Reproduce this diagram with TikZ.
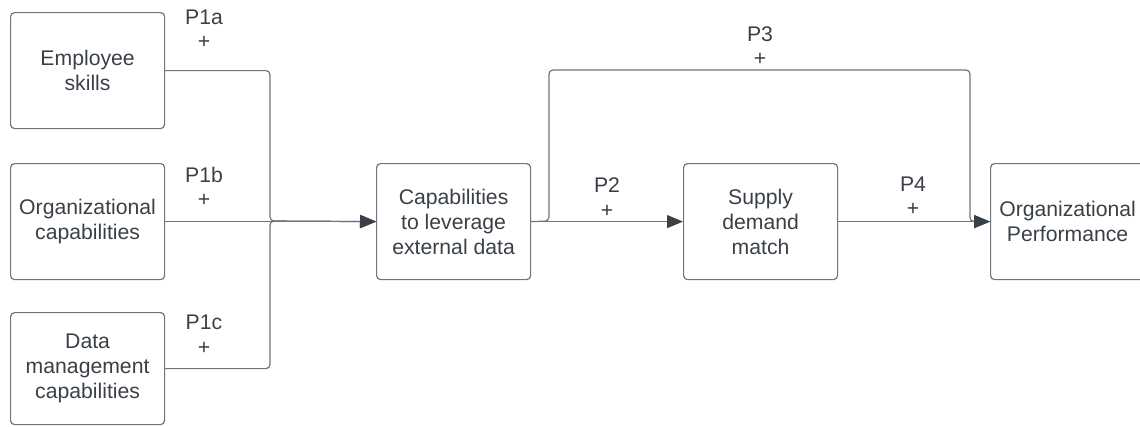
\documentclass[tikz,border=0pt]{standalone}
\usepackage{fontspec}
\setmainfont{Liberation Sans}
\usetikzlibrary{arrows.meta}
\definecolor{ink}{RGB}{58,64,72}
\definecolor{edge}{RGB}{112,117,125}
\begin{document}
\begin{tikzpicture}[x=1pt,y=-1pt,
  box/.style={draw=edge, line width=1.2pt, rounded corners=4pt,
    minimum width=154pt, minimum height=116pt, inner sep=0pt,
    align=center, text=ink, font=\fontsize{21.2}{25}\selectfont,
    anchor=north west},
  wire/.style={draw=edge, line width=1.2pt, rounded corners=4pt},
  tip/.style={-{Triangle[length=16pt,width=13pt,color=ink]}},
  lbl/.style={text=ink, font=\fontsize{21.2}{25}\selectfont, inner sep=0pt}]
\useasboundingbox (0,0) rectangle (1140,426);
\clip (0,0) rectangle (1140,426);

% boxes
\node[box] (emp) at (10,12) {Employee\\skills};
\node[box] (org) at (10,163) {Organizational\\capabilities};
\node[box, minimum height=112pt] (dat) at (10,312) {Data\\management\\capabilities};
\node[box] (cap) at (376,163) {Capabilities\\to leverage\\external data};
\node[box] (sdm) at (683,163) {Supply\\demand\\match};
\node[box] (perf) at (990,163) {Organizational\\Performance};

% junction and routing points
\coordinate (j) at (270,221);
\coordinate (b) at (549,221);
\coordinate (p3a) at (549,70);
\coordinate (p3b) at (970,70);

% connectors
\draw[wire,tip] (emp.east) -| (j) -- (cap.west);
\draw[wire,tip] (org.east) -- (cap.west);
\draw[wire,tip] (dat.east) -| (j) -- (cap.west);
\draw[wire,tip] (cap.east) -- (sdm.west);
\draw[wire,tip] (cap.east) -- (b) -- (p3a) -- (p3b) |- (perf.west);
\draw[wire,tip] (sdm.east) -- (perf.west);

% path labels
\node[lbl] (l1a) at (204,17) {P1a};
\node[lbl] (s1a) at (204,42) {+};
\node[lbl] (l1b) at (204,175) {P1b};
\node[lbl] (s1b) at (204,200) {+};
\node[lbl] (l1c) at (204,322) {P1c};
\node[lbl] (s1c) at (204,348) {+};
\node[lbl] (l2) at (607,185) {P2};
\node[lbl] (s2) at (607,211) {+};
\node[lbl] (l3) at (760,34) {P3};
\node[lbl] (s3) at (760,59) {+};
\node[lbl] (l4) at (913,184) {P4};
\node[lbl] (s4) at (913,209) {+};
\end{tikzpicture}
\end{document}
